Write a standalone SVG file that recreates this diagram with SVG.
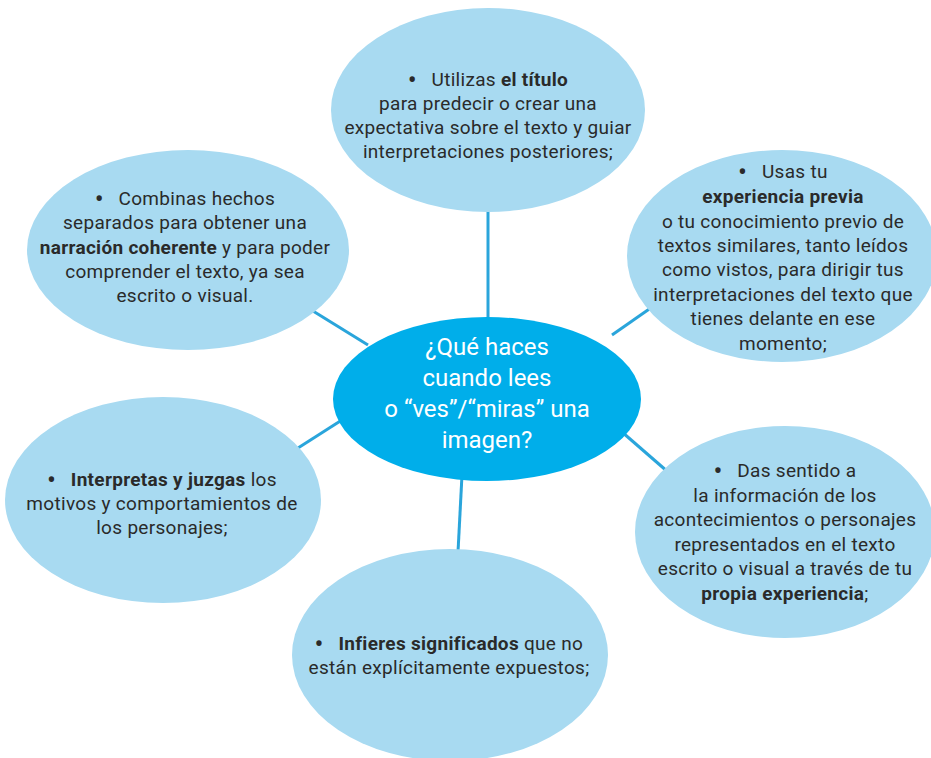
<svg xmlns="http://www.w3.org/2000/svg" width="931" height="758" viewBox="0 0 931 758">
<style>
.bub{fill:#a8daf1}
.hub{fill:#00aeea}
.con{stroke:#2aa5db;stroke-width:3;fill:none}
.t{font-family:Roboto,"Liberation Sans",sans-serif;font-size:19px;letter-spacing:0.3px;fill:#2a2a2a;text-anchor:middle}
.b{font-weight:bold}
.d{font-weight:bold;font-size:23px;baseline-shift:-2px}
.h{font-family:Roboto,"Liberation Sans",sans-serif;font-size:24px;fill:#ffffff;text-anchor:middle}
</style>
<rect width="931" height="758" fill="#ffffff"/>
<g id="connectors">
<line class="con" x1="488" y1="205" x2="488" y2="320"/>
<line class="con" x1="300" y1="303" x2="368" y2="345"/>
<line class="con" x1="612" y1="335" x2="655" y2="305"/>
<line class="con" x1="298" y1="448" x2="345" y2="418"/>
<line class="con" x1="622" y1="432" x2="668" y2="472"/>
<line class="con" x1="462" y1="475" x2="458" y2="552"/>
</g>
<g id="n-top">
<ellipse class="bub" cx="488" cy="110" rx="157" ry="102"/>
<text class="t" x="488" y="86"><tspan class="d">•</tspan>&#160;&#160;&#160;Utilizas <tspan class="b">el título</tspan></text>
<text class="t" x="488" y="110">para predecir o crear una</text>
<text class="t" x="488" y="134">expectativa sobre el texto y guiar</text>
<text class="t" x="488" y="158">interpretaciones posteriores;</text>
</g>
<g id="n-upleft">
<ellipse class="bub" cx="188" cy="250" rx="161" ry="100"/>
<text class="t" x="185" y="205"><tspan class="d">•</tspan>&#160;&#160;&#160;Combinas hechos</text>
<text class="t" x="185" y="229">separados para obtener una</text>
<text class="t" x="185" y="254"><tspan class="b">narración coherente</tspan> y para poder</text>
<text class="t" x="185" y="278">comprender el texto, ya sea</text>
<text class="t" x="185" y="302">escrito o visual.</text>
</g>
<g id="n-upright">
<ellipse class="bub" cx="782" cy="256" rx="155" ry="106"/>
<text class="t" x="783" y="178"><tspan class="d">•</tspan>&#160;&#160;&#160;Usas tu</text>
<text class="t b" x="783" y="203">experiencia previa</text>
<text class="t" x="783" y="228">o tu conocimiento previo de</text>
<text class="t" x="783" y="252">textos similares, tanto leídos</text>
<text class="t" x="783" y="276">como vistos, para dirigir tus</text>
<text class="t" x="783" y="301">interpretaciones del texto que</text>
<text class="t" x="783" y="325">tienes delante en ese</text>
<text class="t" x="783" y="350">momento;</text>
</g>
<g id="n-center">
<ellipse class="hub" cx="487" cy="399" rx="154" ry="82"/>
<text class="h" x="487" y="355">¿Qué haces</text>
<text class="h" x="487" y="386">cuando lees</text>
<text class="h" x="487" y="417">o “ves”/“miras” una</text>
<text class="h" x="487" y="448">imagen?</text>
</g>
<g id="n-lowleft">
<ellipse class="bub" cx="163" cy="500" rx="158" ry="103"/>
<text class="t" x="162" y="486"><tspan class="d">•</tspan>&#160;&#160;&#160;<tspan class="b">Interpretas y juzgas</tspan> los</text>
<text class="t" x="162" y="510">motivos y comportamientos de</text>
<text class="t" x="162" y="534">los personajes;</text>
</g>
<g id="n-lowright">
<ellipse class="bub" cx="785" cy="532" rx="150" ry="106"/>
<text class="t" x="785" y="477"><tspan class="d">•</tspan>&#160;&#160;&#160;Das sentido a</text>
<text class="t" x="785" y="502">la información de los</text>
<text class="t" x="785" y="526">acontecimientos o personajes</text>
<text class="t" x="785" y="551">representados en el texto</text>
<text class="t" x="785" y="575">escrito o visual a través de tu</text>
<text class="t" x="785" y="600"><tspan class="b">propia experiencia</tspan>;</text>
</g>
<g id="n-bottom">
<ellipse class="bub" cx="450" cy="655" rx="158" ry="106"/>
<text class="t" x="449" y="650"><tspan class="d">•</tspan>&#160;&#160;&#160;<tspan class="b">Infieres significados</tspan> que no</text>
<text class="t" x="449" y="674">están explícitamente expuestos;</text>
</g>
</svg>
